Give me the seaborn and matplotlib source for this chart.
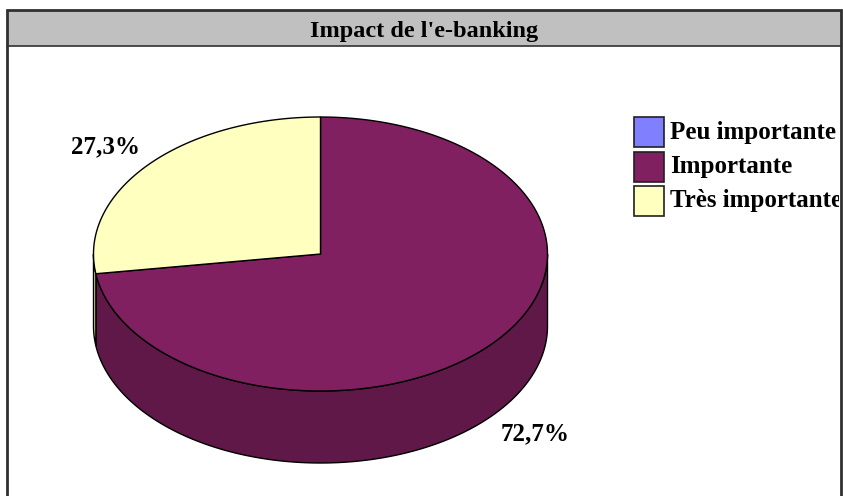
import numpy as np
import matplotlib
matplotlib.use("Agg")
import matplotlib.pyplot as plt
from matplotlib.patches import Rectangle, Polygon
from matplotlib.transforms import Bbox, TransformedBbox
import seaborn as sns

# Survey answers: perceived impact of e-banking (share of respondents, %)
categories = ["Peu importante", "Importante", "Très importante"]
shares = [0.0, 72.7, 27.3]
title = "Impact de l'e-banking"

top_colors = sns.color_palette(["#8080FF", "#802060", "#FFFFC0"])
side_colors = sns.color_palette(["#5a5ab4", "#601848", "#D4D49C"])

sns.set_style("white")
plt.rcParams["font.family"] = ["Liberation Serif", "DejaVu Serif"]

W, H = 843, 496
fig = plt.figure(figsize=(W / 100, H / 100), dpi=100)
ax = fig.add_axes([0, 0, 1, 1])
ax.set_xlim(0, W)
ax.set_ylim(H, 0)
ax.axis("off")

# chart frame and title band
left, right, top, band = 7, 841, 10, 46
ax.add_patch(Rectangle((left, top), right - left, band - top, facecolor="#C0C0C0",
                       edgecolor="none", zorder=1))
ax.plot([left, right], [band, band], color="#303030", lw=1.2, zorder=2)
ax.plot([left, left, right, right], [H + 5, top, top, H + 5], color="#303030",
        lw=2.0, zorder=10, clip_on=False, solid_joinstyle="miter")
ax.text((left + right) / 2, 31, title, ha="center", va="center",
        fontsize=17.5, fontweight="bold", color="black", zorder=3)

# 3-D pie geometry (screen units, y grows downwards)
cx, cy, rx, ry, depth = 320.5, 254.0, 227.0, 137.0, 72.0


def rim(t0, t1, dy=0.0, n=200):
    t = np.radians(np.linspace(t0, t1, n))
    return np.column_stack([cx + rx * np.cos(t), cy - ry * np.sin(t) + dy])


# slice angles, clockwise from 12 o'clock
total = sum(shares)
bounds = []
start = 90.0
for v in shares:
    end = start - 360.0 * v / total
    bounds.append((end, start))
    start = end

# side walls: only the front half (180..360 deg) is visible
for (a0, a1), col in zip(bounds, side_colors):
    if a1 - a0 <= 0:
        continue
    for k in (-1, 0, 1):
        lo = max(a0 + 360 * k, 180.0)
        hi = min(a1 + 360 * k, 360.0)
        if hi > lo:
            upper = rim(lo, hi)
            lower = rim(hi, lo, dy=depth)
            ax.add_patch(Polygon(np.vstack([upper, lower]), closed=True,
                                 facecolor=col, edgecolor="black", lw=1.0, zorder=4))

# top faces
for (a0, a1), col in zip(bounds, top_colors):
    if a1 - a0 <= 0:
        continue
    pts = np.vstack([[cx, cy], rim(a1, a0)])
    ax.add_patch(Polygon(pts, closed=True, facecolor=col, edgecolor="black",
                         lw=1.0, zorder=5))

# value labels outside each slice
for (a0, a1), v in zip(bounds, shares):
    if v <= 0:
        continue
    mid = np.radians((a0 + a1) / 2)
    lx = cx + 1.25 * rx * np.cos(mid)
    ly = cy - 1.2 * ry * np.sin(mid) + (depth if np.sin(mid) < 0 else 0)
    ax.text(lx, ly, f"{v:.1f}%".replace(".", ","), ha="center", va="center",
            fontsize=18, fontweight="bold", color="black", zorder=6)

# legend, cut off by the right edge of the frame
clip = TransformedBbox(Bbox([[left, top], [right - 2, H]]), ax.transData)
for i, (name, col) in enumerate(zip(categories, top_colors)):
    y = 132 + 34.5 * i
    ax.add_patch(Rectangle((634, y - 15), 30, 30, facecolor=col, edgecolor="#202020",
                           lw=1.2, zorder=6))
    t = ax.text(670, y, name, ha="left", va="center", fontsize=18,
                fontweight="bold", color="black", zorder=6)
    t.set_clip_box(clip)
    t.set_clip_on(True)

fig.savefig("out.png", dpi=100)
